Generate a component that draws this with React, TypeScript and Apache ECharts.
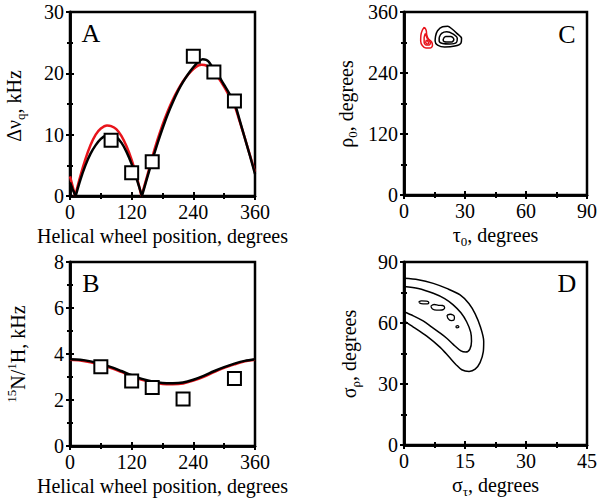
import React, { useEffect, useRef } from "react";
import * as echarts from "echarts";

const FONT = "'Liberation Serif', 'Times New Roman', serif";

// Panel A: quadrupolar splittings (kHz) vs helical wheel position
const posA = [80, 120, 160, 240, 280, 320];
const valsA = [9.1, 3.8, 5.6, 22.8, 20.2, 15.5];
const blackA1 = [[0, 2.2], [5, 1.1], [11, 0]];
const blackA2 = [[11, 0], [20, 2.6], [30, 5.0], [40, 6.9], [50, 8.3], [60, 9.3], [70, 9.9], [78, 10.0], [90, 9.6], [100, 8.7], [110, 7.2], [120, 5.2], [130, 2.7], [140, 0]];
const blackA3 = [[140, 0], [150, 2.9], [160, 5.8], [170, 8.5], [180, 11.0], [190, 13.3], [200, 15.3], [210, 17.1], [220, 18.6], [230, 19.9], [240, 21.0], [250, 21.9], [258, 22.3], [265, 22.2], [270, 21.9], [280, 20.6], [290, 19.5], [300, 18.1], [310, 16.7], [320, 15.2], [330, 12.4], [340, 9.5], [350, 6.6], [360, 3.6]];
const redA1 = [[0, 3.2], [5, 1.6], [10, 0]];
const redA2 = [[10, 0], [20, 3.2], [30, 6.0], [40, 8.3], [50, 10.0], [60, 11.0], [72, 11.5], [80, 11.4], [90, 10.9], [100, 9.8], [110, 8.1], [120, 5.9], [130, 3.1], [139, 0]];
const redA3 = [[139, 0], [150, 3.2], [160, 6.3], [170, 9.1], [180, 11.6], [190, 13.8], [200, 15.7], [210, 17.3], [220, 18.7], [230, 19.8], [240, 20.7], [250, 21.3], [256, 21.4], [262, 21.35], [270, 21.0], [280, 20.2], [290, 19.1], [300, 17.8], [310, 16.3], [320, 14.8], [330, 12.2], [340, 9.5], [350, 6.7], [360, 3.9]];

// Panel B: 15N/1H dipolar couplings (kHz)
const posB = [60, 120, 160, 220, 320];
const valsB = [3.45, 2.83, 2.54, 2.04, 2.94];
const blackB = [[0, 3.77], [20, 3.75], [40, 3.68], [60, 3.57], [80, 3.43], [100, 3.26], [120, 3.08], [140, 2.92], [160, 2.81], [180, 2.74], [200, 2.73], [220, 2.76], [240, 2.88], [260, 3.05], [280, 3.25], [300, 3.43], [320, 3.58], [340, 3.70], [360, 3.77]];
const redB = [[0, 3.75], [20, 3.72], [40, 3.64], [60, 3.53], [80, 3.39], [100, 3.22], [120, 3.04], [140, 2.88], [160, 2.77], [180, 2.70], [200, 2.69], [220, 2.72], [240, 2.84], [260, 3.01], [280, 3.21], [300, 3.40], [320, 3.55], [340, 3.68], [360, 3.75]];

// Panel C: tau0 / rho0 contours
const redC1 = [[10.0, 330], [9.0, 324], [8.3, 314], [8.2, 303], [9.0, 294], [10.8, 289], [12.8, 289], [14.0, 294], [13.6, 301], [12.0, 307], [11.2, 315], [10.9, 324], [10.0, 330]];
const redC2 = [[10.6, 318], [9.9, 310], [9.9, 301], [10.8, 295], [12.3, 295], [13.0, 299], [12.3, 304], [11.2, 310], [10.6, 318]];
const redC3 = [[11.0, 305], [10.7, 300], [11.4, 297], [12.2, 299], [11.6, 303], [11.0, 305]];
const blackC1 = [[15.5, 312], [16.5, 323], [19.0, 331], [21.5, 332], [23.5, 327], [26.0, 318], [28.3, 308], [28.0, 299], [25.0, 293], [20.0, 291], [16.5, 295], [15.3, 303], [15.5, 312]];
const blackC2 = [[17.3, 310], [18.5, 318], [21.0, 321], [24.0, 317], [26.2, 308], [25.8, 300], [22.5, 297], [19.0, 298], [17.3, 303], [17.3, 310]];
const blackC3 = [[19.3, 307], [20.5, 312], [23.0, 312], [24.5, 306], [23.5, 301], [20.8, 301], [19.3, 304], [19.3, 307]];

// Panel D: sigma_tau / sigma_rho contours
const outerD = [[0, 82], [3.5, 81.3], [7.2, 79.5], [10.5, 77], [13.8, 73.8], [16, 69.5], [17.5, 64.5], [18.8, 58], [19.6, 51], [19.5, 45.9], [18.7, 40.5], [17.5, 37.3], [16.0, 36.2], [14.2, 37], [12.8, 39.5], [11.0, 43.5], [8.9, 48], [5.6, 53.5], [2.3, 58], [0, 61]];
const innerD = [[0, 78], [3.5, 77], [7.2, 74.6], [10, 72], [12.1, 68.9], [14, 65], [15.4, 60.6], [16.4, 55.5], [16.6, 51], [16.2, 47.2], [15.2, 45.7], [14, 46.3], [12.1, 49.5], [10.5, 52.5], [8.9, 55], [6.5, 58.5], [4.7, 61.0], [2.3, 63.5], [0, 65.5]];
const islandD1 = [[3.6, 70.3], [4.3, 70.9], [5.5, 70.8], [6.1, 70.0], [5.4, 69.4], [4.2, 69.5], [3.6, 70.3]];
const islandD2 = [[6.6, 68.3], [7.4, 69.1], [8.5, 68.7], [9.5, 68.6], [10.0, 67.5], [9.3, 66.4], [8.0, 66.3], [7.0, 66.9], [6.6, 68.3]];
const islandD3 = [[10.6, 63.9], [11.4, 64.3], [12.4, 63.0], [12.3, 61.5], [11.6, 61.2], [10.8, 62.3], [10.6, 63.9]];
const islandD4 = [[12.7, 58.3], [13.2, 58.7], [13.5, 58.0], [13.0, 57.6], [12.7, 58.3]];

const grids = [
  { left: 70, top: 12, width: 185, height: 184 },
  { left: 404, top: 12, width: 183, height: 183 },
  { left: 70, top: 262, width: 185, height: 184 },
  { left: 404, top: 262, width: 183, height: 183 },
];

const xRanges = [[0, 360, 120], [0, 90, 30], [0, 360, 120], [0, 45, 15]];
const yRanges = [[0, 30, 10], [0, 360, 120], [0, 8, 2], [0, 90, 30]];
const xNames = [
  "Helical wheel position, degrees",
  "τ{s|0}, degrees",
  "Helical wheel position, degrees",
  "σ{s|τ}, degrees",
];
const yNames = [
  "Δν{s|q}, kHz",
  "ρ{s|0}, degrees",
  "{p|15}N/{p|1}H, kHz",
  "σ{s|ρ}, degrees",
];
const letters = ["A", "C", "B", "D"];

const richName = {
  s: { fontSize: 13, fontFamily: FONT, color: "#000", verticalAlign: "bottom", lineHeight: 12 },
  p: { fontSize: 13, fontFamily: FONT, color: "#000", verticalAlign: "top", lineHeight: 12 },
};

function axisPair(kind: "x" | "y", i: number) {
  const [min, max, interval] = kind === "x" ? xRanges[i] : yRanges[i];
  const common = {
    gridIndex: i,
    type: "value",
    min,
    max,
    interval,
    position: kind === "x" ? "bottom" : "left",
    splitLine: { show: false },
    axisLine: { show: true, onZero: false, lineStyle: { color: "#000", width: 2.5 } },
    minorTick: { show: true, splitNumber: 2, length: 3, lineStyle: { color: "#000", width: 2 } },
    minorSplitLine: { show: false },
  };
  const main: any = {
    ...common,
    axisTick: { show: true, inside: false, length: 4, lineStyle: { color: "#000", width: 2 } },
    axisLabel: { show: true, color: "#000", fontSize: 20, fontFamily: FONT, margin: 6 },
  };
  if (kind === "x") {
    main.name = xNames[i];
    main.nameLocation = "middle";
    main.nameGap = 26;
    main.nameTextStyle = { color: "#000", fontSize: 20, fontFamily: FONT, lineHeight: 26, rich: richName };
  }
  const dup = {
    ...common,
    axisTick: { show: true, inside: true, length: 4, lineStyle: { color: "#000", width: 2 } },
    axisLabel: { show: false },
  };
  return [main, dup];
}

function line(i: number, data: number[][], color: string, width: number, smooth: number) {
  return {
    type: "line",
    xAxisIndex: 2 * i,
    yAxisIndex: 2 * i,
    data,
    symbol: "none",
    smooth,
    clip: true,
    lineStyle: { color, width },
    silent: true,
  };
}

function squares(i: number, xs: number[], ys: number[]) {
  return {
    type: "scatter",
    xAxisIndex: 2 * i,
    yAxisIndex: 2 * i,
    data: xs.map((x, k) => [x, ys[k]]),
    symbol: "rect",
    symbolSize: 13,
    itemStyle: { color: "#fff", borderColor: "#000", borderWidth: 2, opacity: 1 },
    z: 5,
  };
}

const RED = "#e8141b";

export default function App() {
  const ref = useRef<HTMLDivElement>(null);
  useEffect(() => {
    if (!ref.current) return;
    const chart = echarts.init(ref.current, null, { renderer: "svg" });
    const xAxis: any[] = [];
    const yAxis: any[] = [];
    for (let i = 0; i < 4; i++) {
      xAxis.push(...axisPair("x", i));
      yAxis.push(...axisPair("y", i));
    }
    const letterPos = [
      [91, 33],
      [567, 34],
      [91, 283],
      [567, 283],
    ];
    const yNamePos = [
      [14, 106],
      [346, 104],
      [18, 354],
      [349, 354],
    ];
    const graphic: any[] = letters.map((t, k) => ({
      type: "text",
      x: letterPos[k][0],
      y: letterPos[k][1],
      style: {
        text: t,
        fill: "#000",
        font: `26px ${FONT}`,
        align: "center",
        verticalAlign: "middle",
      },
      z: 10,
    }));
    yNames.forEach((t, k) => {
      graphic.push({
        type: "text",
        x: yNamePos[k][0],
        y: yNamePos[k][1],
        rotation: Math.PI / 2,
        style: {
          text: t,
          fill: "#000",
          fontSize: 20,
          fontFamily: FONT,
          lineHeight: 26,
          align: "center",
          verticalAlign: "middle",
          rich: richName,
        },
        z: 10,
      });
    });
    const option: any = {
      animation: false,
      backgroundColor: "#fff",
      grid: grids.map((g) => ({
        ...g,
        show: true,
        borderColor: "#000",
        borderWidth: 2.5,
        backgroundColor: "transparent",
        containLabel: false,
      })),
      xAxis,
      yAxis,
      graphic,
      series: [
        line(0, redA1, RED, 2.5, 0),
        line(0, redA2, RED, 2.5, 0.3),
        line(0, redA3, RED, 2.5, 0.3),
        line(0, blackA1, "#000", 2.5, 0),
        line(0, blackA2, "#000", 2.5, 0.3),
        line(0, blackA3, "#000", 2.5, 0.3),
        squares(0, posA, valsA),
        line(1, redC1, RED, 1.5, 0.35),
        line(1, redC2, RED, 1.5, 0.35),
        line(1, redC3, RED, 1.5, 0.35),
        line(1, blackC1, "#000", 1.5, 0.35),
        line(1, blackC2, "#000", 1.5, 0.35),
        line(1, blackC3, "#000", 1.5, 0.35),
        line(2, redB, RED, 2.5, 0.3),
        line(2, blackB, "#000", 2.5, 0.3),
        squares(2, posB, valsB),
        line(3, outerD, "#000", 1.5, 0.3),
        line(3, innerD, "#000", 1.5, 0.3),
        line(3, islandD1, "#000", 1.3, 0.4),
        line(3, islandD2, "#000", 1.3, 0.4),
        line(3, islandD3, "#000", 1.3, 0.4),
        line(3, islandD4, "#000", 1.3, 0.4),
      ],
    };
    chart.setOption(option);
    return () => chart.dispose();
  }, []);
  return (
    <div
      ref={ref}
      style={{ position: "absolute", left: 0, top: 0, width: 602, height: 504, background: "#fff" }}
    />
  );
}
